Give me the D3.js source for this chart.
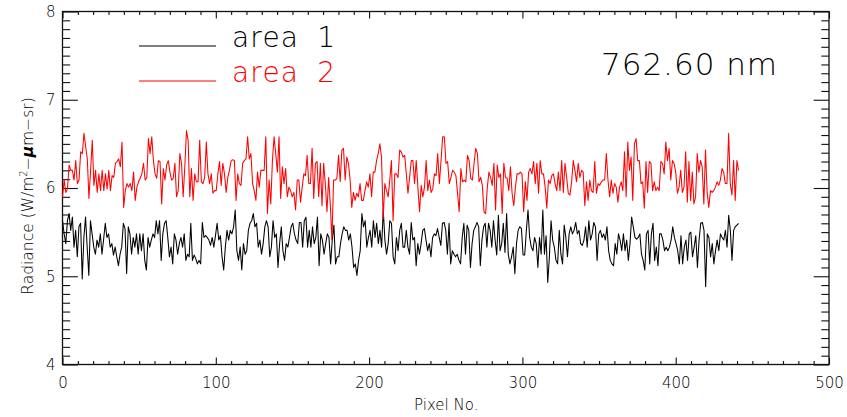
<!DOCTYPE html>
<html>
<head>
<meta charset="utf-8">
<script src="https://cdn.jsdelivr.net/npm/d3@7"></script>
<style>
  html, body { margin: 0; padding: 0; background: #fff; }
  svg { display: block; }
  text { font-family: "DejaVu Sans", sans-serif; font-weight: 200; fill: #000; }
</style>
</head>
<body>
<svg id="chart" width="847" height="417"></svg>
<script>
// Radiance at 762.60 nm along the detector pixels, two scene areas
const radianceArea1 = [
  5.63,5.48,5.37,5.63,5.71,5.52,5.67,5.33,5.52,5.22,5.56,5.60,4.97,5.44,5.67,5.33,5.01,5.63,5.48,5.33,5.25,5.41,5.33,5.48,5.25,5.42,5.60,5.44,5.48,5.33,5.37,5.24,5.33,5.22,5.12,5.25,5.33,5.60,5.54,5.03,5.56,5.48,5.25,5.44,5.33,5.48,5.25,5.48,5.29,5.48,5.18,5.07,5.44,5.33,5.41,5.48,5.44,5.63,5.48,5.63,5.18,5.48,5.60,5.63,5.44,5.22,5.33,5.14,5.48,
  5.41,5.25,5.37,5.44,5.33,5.48,5.18,5.25,5.22,5.60,5.18,5.24,5.20,5.14,5.18,5.14,5.61,5.44,5.46,5.44,5.41,5.35,5.44,5.33,5.46,5.60,5.41,5.46,5.22,5.07,5.33,5.52,5.41,5.52,5.48,5.56,5.75,5.29,5.18,5.33,5.07,5.37,5.25,5.29,5.52,5.60,5.63,5.71,5.56,5.60,5.33,5.41,5.25,5.37,5.56,5.63,5.56,5.22,5.33,5.63,5.44,5.48,5.10,5.37,5.56,5.29,5.18,5.37,5.33,5.44,
  5.56,5.60,5.48,5.41,5.37,5.61,5.61,5.33,5.63,5.67,5.33,5.52,5.33,5.56,5.37,5.44,5.67,5.12,5.48,5.41,5.25,5.37,5.48,5.44,5.14,5.41,5.58,5.14,5.22,5.22,5.37,5.48,5.56,5.52,5.52,5.41,5.48,5.33,5.10,5.14,5.01,5.18,5.29,5.71,5.56,5.63,5.33,5.44,5.52,5.33,5.63,5.44,5.60,5.37,5.52,5.33,5.75,5.41,5.25,5.37,5.63,5.60,5.22,5.14,5.44,5.29,5.52,5.60,5.33,5.33,
  5.52,5.33,5.25,5.61,5.41,5.44,5.12,5.37,5.25,5.37,5.52,5.54,5.41,5.29,5.37,5.22,5.44,5.48,5.46,5.54,5.44,5.35,5.60,5.61,5.52,5.25,5.60,5.14,5.29,5.25,5.22,5.25,5.18,5.14,5.44,5.60,5.25,5.58,5.52,5.10,5.37,5.52,5.56,5.61,5.56,5.12,5.41,5.56,5.60,5.33,5.60,5.52,5.33,5.63,5.41,5.24,5.69,5.29,5.37,5.60,5.27,5.71,5.25,5.14,5.22,5.33,5.03,5.37,5.52,5.56,
  5.54,5.24,5.24,5.52,5.75,5.44,5.33,5.29,5.44,5.37,5.10,5.44,5.25,5.75,5.25,5.46,4.93,5.22,5.63,5.41,5.33,5.18,5.14,5.52,5.25,5.14,5.58,5.44,5.22,5.48,5.56,5.48,5.52,5.61,5.48,5.52,5.37,5.35,5.41,5.56,5.33,5.63,5.41,5.48,5.61,5.56,5.18,5.48,5.52,5.44,5.48,5.41,5.56,5.29,5.18,5.14,5.12,5.37,5.25,5.48,5.41,5.29,5.48,5.29,5.41,5.18,5.37,5.67,5.56,5.44,
  5.42,5.44,5.48,5.25,5.18,5.07,5.48,5.52,5.14,5.48,5.60,5.18,5.33,5.12,5.48,5.48,5.41,5.29,5.33,5.29,5.33,5.41,5.56,5.44,5.37,5.29,5.14,5.46,5.14,5.33,5.41,5.18,5.48,5.50,5.22,5.33,5.46,5.10,5.41,5.60,5.61,5.52,4.88,5.48,5.44,5.22,5.37,5.14,5.29,5.41,5.29,5.48,5.44,5.41,5.52,5.33,5.69,5.52,5.18,5.52,5.56,5.58,5.60
];

const radianceArea2 = [
  5.90,6.09,5.95,5.99,6.26,6.20,6.20,6.09,6.31,6.05,6.09,6.41,6.39,6.62,6.47,6.33,5.88,6.20,6.54,6.03,6.20,5.95,6.16,5.97,6.20,5.97,6.16,5.99,6.20,5.97,6.14,6.12,6.28,6.30,6.33,6.24,6.52,5.78,5.97,6.05,6.01,6.05,5.97,6.18,5.86,6.01,6.07,6.11,6.16,6.28,6.09,6.12,6.56,6.39,6.58,6.31,6.16,6.11,6.31,6.30,5.82,6.22,6.09,6.26,6.31,6.18,6.09,
  6.11,6.28,5.90,5.97,6.39,6.28,5.90,6.24,6.65,6.54,5.90,6.22,5.86,6.16,6.07,6.07,6.54,6.07,6.05,6.12,6.52,6.16,6.05,6.16,5.94,5.97,5.97,6.16,6.30,6.03,6.28,6.16,5.95,6.12,6.20,6.31,6.32,6.31,5.86,6.16,6.05,6.03,6.28,6.31,6.33,6.58,6.33,6.39,6.05,5.97,5.86,6.18,6.01,6.20,6.20,6.20,6.58,5.71,6.09,5.82,6.31,6.58,6.39,6.18,6.58,5.88,6.24,6.05,6.22,5.90,
  6.01,5.97,5.90,5.95,5.75,6.09,6.09,5.84,6.01,6.16,6.14,6.37,6.05,6.05,6.45,5.88,6.28,6.30,5.90,6.28,5.80,6.28,6.05,5.73,6.12,5.82,5.41,6.09,6.09,6.11,6.37,6.07,6.43,6.45,6.09,6.35,6.28,6.09,5.78,5.95,5.86,5.94,5.90,6.05,5.86,5.86,5.97,6.07,6.01,6.16,5.90,6.18,6.18,6.31,6.39,6.50,6.35,5.65,6.05,5.97,5.90,6.09,6.31,5.63,6.16,6.16,6.12,6.43,6.41,6.35,
  6.37,6.16,5.94,6.12,6.31,6.31,6.05,6.31,6.01,5.73,6.03,5.90,6.01,6.31,5.97,6.09,5.95,5.99,6.16,6.14,6.39,6.05,6.31,6.58,6.58,6.28,6.30,6.05,6.12,6.20,6.18,6.14,5.94,5.73,6.22,6.07,6.09,6.07,6.37,6.31,6.11,6.09,6.28,6.45,6.39,6.07,6.12,6.03,5.73,5.71,6.01,6.18,6.12,6.03,6.28,5.75,6.26,6.12,6.16,5.71,6.28,6.12,6.11,5.97,6.24,5.94,5.80,6.01,6.16,6.16,
  6.18,6.16,5.73,6.07,5.86,6.18,6.22,6.16,6.30,6.05,6.28,5.94,6.31,6.16,6.16,6.01,5.77,6.09,6.05,6.14,6.16,6.05,5.97,6.18,5.97,6.31,5.95,6.28,6.12,5.94,5.92,6.07,6.31,6.20,6.07,6.28,6.12,6.20,6.18,5.80,6.07,5.86,6.09,5.97,5.95,6.30,5.94,6.05,6.03,6.07,6.09,6.09,6.39,6.09,5.90,6.09,5.94,6.05,6.01,5.84,6.01,6.07,5.97,6.41,5.90,6.52,6.20,6.35,5.86,6.50,
  6.56,6.31,6.31,6.05,6.07,5.77,6.30,5.95,6.30,6.28,5.97,6.07,5.97,6.01,5.97,6.30,6.28,6.16,6.52,6.31,6.45,6.09,6.31,6.28,6.18,5.94,6.01,6.20,5.95,6.01,6.41,5.84,6.30,5.86,6.18,5.82,5.90,6.39,6.18,6.31,6.24,5.82,6.43,5.95,5.78,5.97,5.95,5.97,6.01,6.07,6.03,6.09,6.22,6.18,6.05,6.05,6.62,6.05,5.92,6.31,5.86,6.31,6.20
];

// Samples run evenly from the first to the last pixel
const firstPixel = 0;
const lastPixel = 441;

const xTickValues = [0, 100, 200, 300, 400, 500];
const yTickValues = [4, 5, 6, 7, 8];
const legendWords = ["area", "area"];
const legendNumbers = ["1", "2"];
const seriesColors = ["#000000", "#ff0000"];
const wavelengthLabel = "762.60 nm";

const svg = d3.select("#chart");
const plotLeft = 62.5, plotRight = 829, plotTop = 11.5, plotBottom = 364.5;

const x = d3.scaleLinear().domain([0, 500]).range([plotLeft, plotRight]);
const y = d3.scaleLinear().domain([4, 8]).range([plotBottom, plotTop]);

const pixelOf = (i, n) => firstPixel + i * (lastPixel - firstPixel) / (n - 1);

const plotW = plotRight - plotLeft, plotH = plotBottom - plotTop;
const yMajorLen = 0.02 * plotW, yMinorLen = 0.01 * plotW;
const xMajorLen = 0.02 * plotH, xMinorLen = 0.01 * plotH;

const xMinor = d3.range(0, 501, 10).filter(v => v % 100 !== 0);
const yMinor = d3.range(40, 81, 1).map(v => v / 10).filter(v => Math.abs(v - Math.round(v)) > 1e-6);

function styleAxis(g) {
  g.selectAll(".domain").remove();
  g.selectAll(".tick line").attr("stroke", "#111").attr("stroke-width", 1.1);
  g.selectAll(".tick text").attr("font-size", 15).attr("fill", "#000")
    .style("font-family", '"DejaVu Sans", sans-serif').style("font-weight", 200);
}

// bottom axis with labels
svg.append("g").attr("transform", `translate(0,${plotBottom})`)
  .call(d3.axisBottom(x).tickValues(xTickValues).tickFormat(d3.format("d"))
    .tickSizeInner(-xMajorLen).tickSizeOuter(0).tickPadding(13))
  .call(styleAxis);
svg.append("g").attr("transform", `translate(0,${plotBottom})`)
  .call(d3.axisBottom(x).tickValues(xMinor).tickFormat("").tickSizeInner(-xMinorLen).tickSizeOuter(0))
  .call(styleAxis);
// top axis, ticks only
svg.append("g").attr("transform", `translate(0,${plotTop})`)
  .call(d3.axisTop(x).tickValues(xTickValues).tickFormat("").tickSizeInner(-xMajorLen).tickSizeOuter(0))
  .call(styleAxis);
svg.append("g").attr("transform", `translate(0,${plotTop})`)
  .call(d3.axisTop(x).tickValues(xMinor).tickFormat("").tickSizeInner(-xMinorLen).tickSizeOuter(0))
  .call(styleAxis);
// left axis with labels
svg.append("g").attr("transform", `translate(${plotLeft},0)`)
  .call(d3.axisLeft(y).tickValues(yTickValues).tickFormat(d3.format("d"))
    .tickSizeInner(-yMajorLen).tickSizeOuter(0).tickPadding(7))
  .call(styleAxis);
svg.append("g").attr("transform", `translate(${plotLeft},0)`)
  .call(d3.axisLeft(y).tickValues(yMinor).tickFormat("").tickSizeInner(-yMinorLen).tickSizeOuter(0))
  .call(styleAxis);
// right axis, ticks only
svg.append("g").attr("transform", `translate(${plotRight},0)`)
  .call(d3.axisRight(y).tickValues(yTickValues).tickFormat("").tickSizeInner(-yMajorLen).tickSizeOuter(0))
  .call(styleAxis);
svg.append("g").attr("transform", `translate(${plotRight},0)`)
  .call(d3.axisRight(y).tickValues(yMinor).tickFormat("").tickSizeInner(-yMinorLen).tickSizeOuter(0))
  .call(styleAxis);

// plot frame
svg.append("rect")
  .attr("x", plotLeft).attr("y", plotTop).attr("width", plotW).attr("height", plotH)
  .attr("fill", "none").attr("stroke", "#111").attr("stroke-width", 1.3);

// data lines
const series = [radianceArea1, radianceArea2];
series.forEach((vals, k) => {
  const line = d3.line()
    .x((d, i) => x(pixelOf(i, vals.length)))
    .y(d => y(d));
  svg.append("path")
    .datum(vals)
    .attr("d", line)
    .attr("fill", "none")
    .attr("stroke", seriesColors[k])
    .attr("stroke-width", 1.05)
    .attr("stroke-linejoin", "round");
});

// axis titles
svg.append("text")
  .attr("x", (plotLeft + plotRight) / 2 + 0.5).attr("y", 410)
  .attr("text-anchor", "middle").attr("font-size", 15)
  .text("Pixel No.");

const yTitle = svg.append("text")
  .attr("transform", "translate(33,196) rotate(-90)")
  .attr("text-anchor", "middle").attr("font-size", 15.5);
yTitle.append("tspan").text("Radiance (W/m");
yTitle.append("tspan").attr("font-size", 10).attr("dy", -6).text("2");
yTitle.append("tspan").attr("dy", 6).text("\u2212");
yTitle.append("tspan").style("font-weight", 700).style("font-style", "italic").text("\u03bc");
yTitle.append("tspan").text("m\u2212sr)");

// legend
const legendRows = [47, 82];
legendWords.forEach((word, k) => {
  const color = k === 0 ? "#000" : seriesColors[k];
  svg.append("line")
    .attr("x1", 139).attr("x2", 216)
    .attr("y1", legendRows[k] - 1).attr("y2", legendRows[k] - 1)
    .attr("stroke", seriesColors[k]).attr("stroke-width", 1.2);
  svg.append("text")
    .attr("x", 232).attr("y", legendRows[k])
    .attr("font-size", 28)
    .attr("textLength", 66).attr("lengthAdjust", "spacing")
    .style("fill", color)
    .text(word);
  svg.append("text")
    .attr("x", 335).attr("y", legendRows[k])
    .attr("text-anchor", "end")
    .attr("font-size", 28)
    .style("fill", color)
    .text(legendNumbers[k]);
});

// wavelength annotation
svg.append("text")
  .attr("x", 601).attr("y", 75)
  .attr("font-size", 31)
  .attr("textLength", 176).attr("lengthAdjust", "spacing")
  .text(wavelengthLabel);
</script>
</body>
</html>
